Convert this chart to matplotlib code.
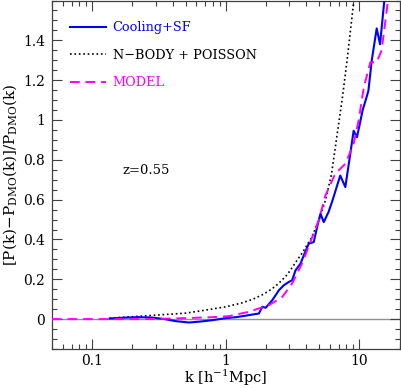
import matplotlib
matplotlib.use("Agg")
import matplotlib.pyplot as plt
from matplotlib.ticker import MultipleLocator, FixedLocator, NullFormatter, LogLocator

plt.rcParams['font.family'] = ['DejaVu Serif']
plt.rcParams['mathtext.fontset'] = 'dejavuserif'

# Cooling+SF (simulation)
k_sf = [0.135, 0.17, 0.22, 0.28, 0.35, 0.42, 0.53, 0.65, 0.8, 1.0, 1.2, 1.49, 1.65,
        1.77, 1.88, 1.99, 2.1, 2.23, 2.5, 2.72, 2.97, 3.14, 3.33, 3.63, 3.84, 4.18,
        4.56, 4.83, 5.12, 5.42, 5.9, 6.3, 7.2, 7.86, 8.56, 9.07, 9.6, 10.2, 10.6,
        11.4, 11.7, 12.4, 13.5, 14.3, 15.4, 16.0]
r_sf = [0.003, 0.007, 0.010, 0.008, 0.0, -0.010, -0.017, -0.012, -0.005, 0.005,
        0.010, 0.020, 0.025, 0.028, 0.062, 0.057, 0.075, 0.095, 0.145, 0.170,
        0.187, 0.195, 0.245, 0.279, 0.320, 0.379, 0.387, 0.462, 0.529, 0.487,
        0.540, 0.596, 0.721, 0.663, 0.830, 0.946, 0.913, 0.996, 1.05, 1.12, 1.147,
        1.30, 1.46, 1.38, 1.60, 1.75]

# N-body + Poisson
k_nb = [0.135, 0.2, 0.3, 0.5, 0.7, 1.0, 1.3, 1.6, 1.9, 2.2, 2.5, 2.9, 3.3, 3.8,
        4.4, 5.0, 5.6, 6.2, 6.8, 7.5, 8.2, 9.1, 10.0]
r_nb = [0.005, 0.012, 0.020, 0.030, 0.045, 0.062, 0.080, 0.100, 0.124, 0.150,
        0.180, 0.225, 0.280, 0.340, 0.410, 0.500, 0.600, 0.730, 0.920, 1.12,
        1.33, 1.60, 1.90]

# Model
k_m = [0.05, 0.2, 0.3, 0.5, 0.8, 1.06, 1.49, 2.1, 2.64, 3.14, 3.73, 4.3, 4.97,
       5.57, 6.6, 7.86, 9.07, 9.9, 10.8, 12.1, 13.5, 14.7, 16.4, 17.0]
r_m = [0.0, 0.0, 0.001, 0.005, 0.010, 0.015, 0.037, 0.070, 0.110, 0.179, 0.280,
       0.387, 0.496, 0.620, 0.730, 0.780, 0.880, 1.0, 1.163, 1.29, 1.29, 1.35,
       1.60, 1.75]

fig = plt.figure(figsize=(4.01, 3.88), dpi=100)
ax = fig.add_axes([52/401, 39/388, 347.5/401, 348.5/388])

ax.axhline(0, color='#909090', lw=1.0, zorder=1)
ax.plot(k_sf, r_sf, color='#0000ff', lw=1.5, label='Cooling+SF', zorder=3)
ax.plot(k_nb, r_nb, color='black', lw=1.2, ls=':', label='N\u2212BODY + POISSON', zorder=2)
ax.plot(k_m, r_m, color='#ff00ff', lw=1.4, dashes=(5, 3), label='MODEL', zorder=4)

ax.set_xscale('log')
ax.set_xlim(0.05, 20)
ax.set_ylim(-0.15, 1.6)

ax.set_xticks([0.1, 1, 10])
ax.set_xticklabels(['0.1', '1', '10'])
ax.xaxis.set_minor_locator(LogLocator(base=10, subs=range(2, 10)))
ax.xaxis.set_minor_formatter(NullFormatter())
ax.yaxis.set_major_locator(FixedLocator([0, 0.2, 0.4, 0.6, 0.8, 1.0, 1.2, 1.4]))
ax.set_yticklabels(['0', '0.2', '0.4', '0.6', '0.8', '1', '1.2', '1.4'])
ax.yaxis.set_minor_locator(MultipleLocator(0.05))

ax.tick_params(which='both', direction='in', top=True, right=True, labelsize=10,
               color='#404040')
ax.tick_params(which='major', length=7, width=0.8)
ax.tick_params(which='minor', length=3.8, width=0.8)
ax.tick_params(axis='x', pad=3.5)
ax.tick_params(axis='y', pad=5)
for s in ax.spines.values():
    s.set_color('#404040')
    s.set_linewidth(0.9)

ax.set_xlabel(r'k [h$^{-1}$Mpc]', fontsize=10.5, labelpad=0)
ax.set_ylabel(r'[P(k)$-$P$_{\mathrm{DMO}}$(k)]/P$_{\mathrm{DMO}}$(k)', fontsize=11, labelpad=3)

ax.text(0.27, 0.513, 'z=0.55', transform=ax.transAxes, fontsize=9.5, ha='center', va='center')

leg = ax.legend(loc='upper left', bbox_to_anchor=(0.052, 0.94), borderpad=0,
                borderaxespad=0, handletextpad=0.5, handlelength=2.8,
                labelspacing=1.12, frameon=False, labelcolor='linecolor', fontsize=9.3)

fig.savefig('out.png', dpi=100)
